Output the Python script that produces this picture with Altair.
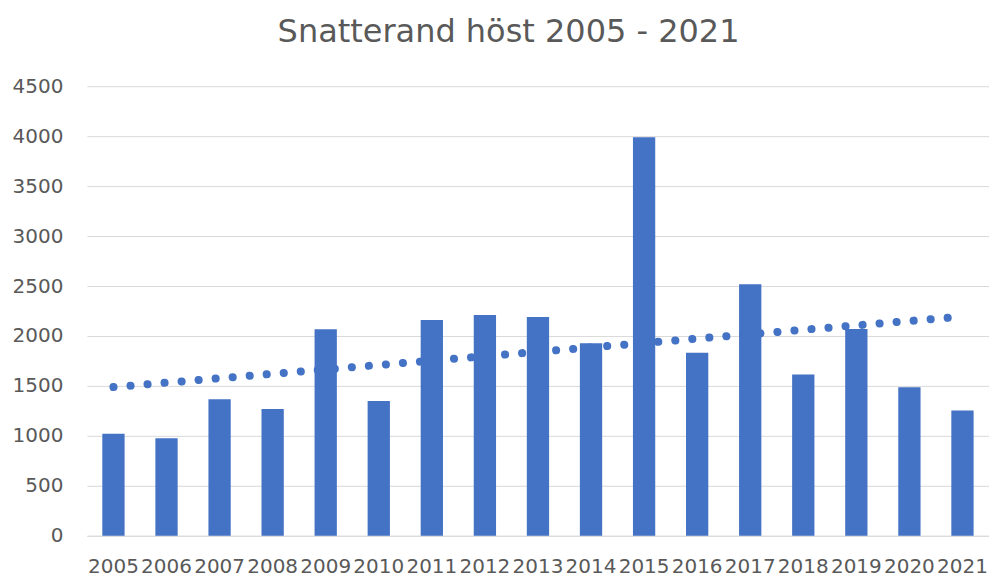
import altair as alt
import pandas as pd

years = [2005, 2006, 2007, 2008, 2009, 2010, 2011, 2012, 2013, 2014, 2015, 2016, 2017, 2018, 2019, 2020, 2021]
counts = [1020, 977, 1367, 1270, 2067, 1350, 2160, 2210, 2190, 1927, 3990, 1833, 2517, 1613, 2070, 1487, 1253]

df = pd.DataFrame({"year": years, "count": counts})

FONT = "DejaVu Sans"
GRAY = "#595959"
BLUE = "#4472C4"

x = alt.X("year:O", title=None,
          scale=alt.Scale(paddingInner=0.58, paddingOuter=0.29),
          axis=alt.Axis(labelAngle=0, labelFont=FONT, labelFontSize=20, labelColor=GRAY,
                        ticks=False, domainColor="#d9d9d9", labelPadding=21,
                        labelOverlap=False))
y = alt.Y("count:Q", title=None,
          scale=alt.Scale(domain=[0, 4500]),
          axis=alt.Axis(values=list(range(0, 4501, 500)), format="d", labelFont=FONT,
                        labelFontSize=20, labelColor=GRAY, ticks=False, domain=False,
                        gridColor="#d9d9d9", labelPadding=24))

bars = alt.Chart(df).mark_bar(color=BLUE).encode(x=x, y=y)

trend = alt.Chart(df).transform_regression("year", "count").mark_line(
    color=BLUE, strokeWidth=8, strokeCap="round", strokeDash=[0.1, 17]
).encode(x=alt.X("year:O"), y=alt.Y("count:Q"))

chart = alt.layer(bars, trend).properties(
    width=903, height=450,
    padding={"left": 4, "right": 0, "top": 8, "bottom": 0},
    title=alt.TitleParams("Snatterand höst 2005 - 2021", font=FONT, fontSize=32,
                          fontWeight="normal", color=GRAY, offset=27, anchor="middle",
                          frame="bounds", dx=8),
).configure_view(stroke=None)

chart.save("out.html", embed_options={"renderer": "svg", "actions": False})
